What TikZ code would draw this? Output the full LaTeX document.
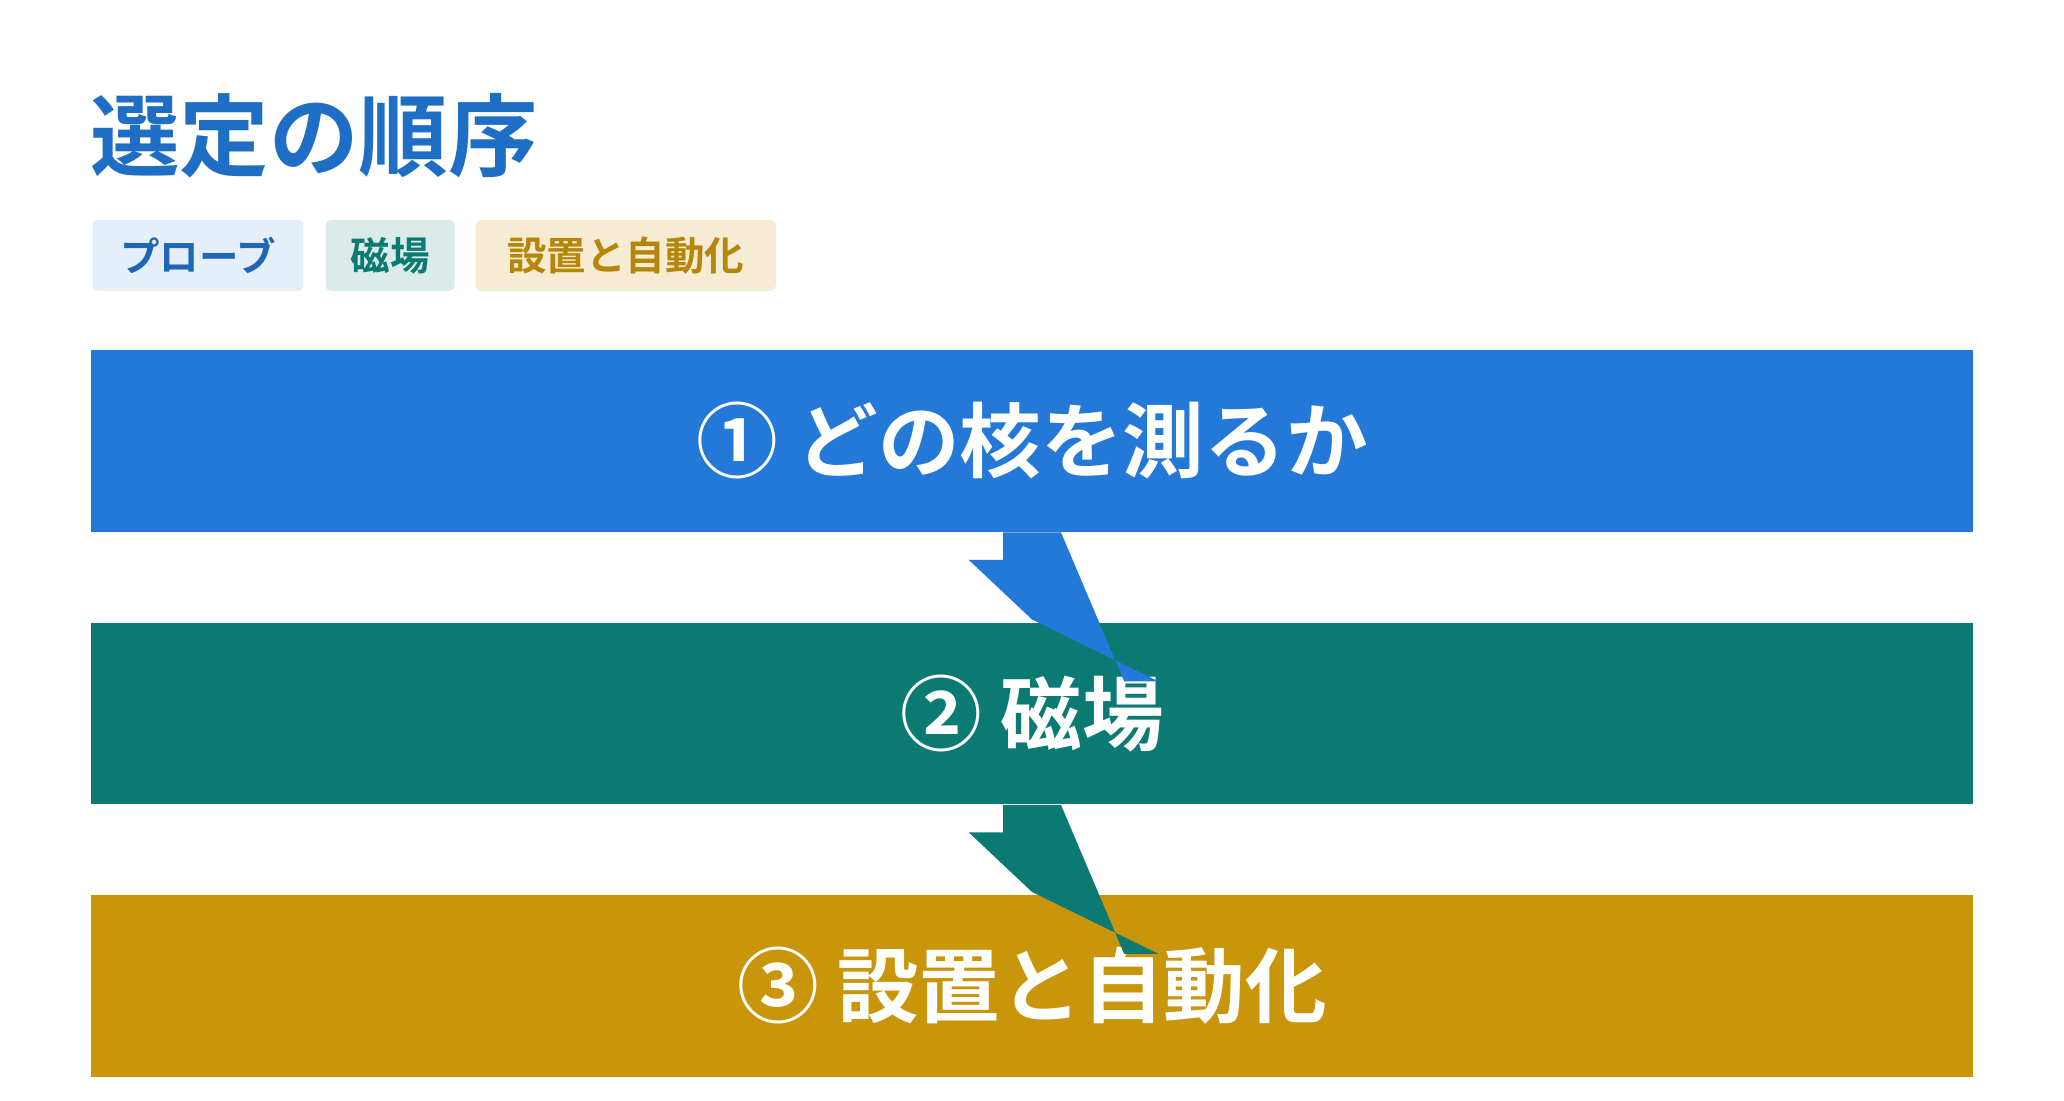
\documentclass[tikz,border=0pt]{standalone}
\usepackage{fontspec}
\setmainfont{Noto Sans CJK JP}[BoldFont={Noto Sans CJK JP Bold}]
\definecolor{cblue}{HTML}{2478D8}
\definecolor{cteal}{HTML}{0A7A72}
\definecolor{camber}{HTML}{C9950A}
\definecolor{ttitle}{HTML}{1F6EC6}
\begin{document}
\begin{tikzpicture}[x=0.5pt,y=-0.5pt,
  bar/.style={minimum width=715pt,minimum height=69pt,inner sep=0pt,text=white,font=\bfseries\fontsize{31}{31}\selectfont},
  tag/.style={anchor=west,minimum height=27pt,inner sep=0pt,rounded corners=2pt,font=\bfseries\fontsize{15}{15}\selectfont}]
\useasboundingbox (0,0) rectangle (1568,836);
\fill[white] (0,0) rectangle (1568,836);
\node[anchor=west,text=ttitle,inner sep=0pt,font=\bfseries\fontsize{34}{34}\selectfont] (title) at (68,103) {選定の順序};
\node[tag,fill=cblue!12,text=cblue!85!black,minimum width=80pt] (t1) at (70,194) {プローブ};
\node[tag,fill=cteal!15,text=cteal,minimum width=49pt] (t2) at (247,194) {磁場};
\node[tag,fill=camber!18,text=camber!90!black,minimum width=114pt] (t3) at (361,194) {設置と自動化};
\node[bar,fill=cblue] (b1) at (784,335) {① どの核を測るか};
\node[bar,fill=cteal] (b2) at (784,542) {② 磁場};
\node[bar,fill=camber] (b3) at (784,749) {③ 設置と自動化};
\fill[cblue] ([xshift=-11pt]b1.south) -- ++(0,-10.5pt) -- ++(-13pt,0) -- ([yshift=1pt]b2.north) -- ++(48pt,-23.5pt) -- ++(-13pt,0) -- ([xshift=11pt]b1.south) -- cycle;
\fill[cteal] ([xshift=-11pt]b2.south) -- ++(0,-10.5pt) -- ++(-13pt,0) -- ([yshift=1pt]b3.north) -- ++(48pt,-23.5pt) -- ++(-13pt,0) -- ([xshift=11pt]b2.south) -- cycle;
\end{tikzpicture}
\end{document}
